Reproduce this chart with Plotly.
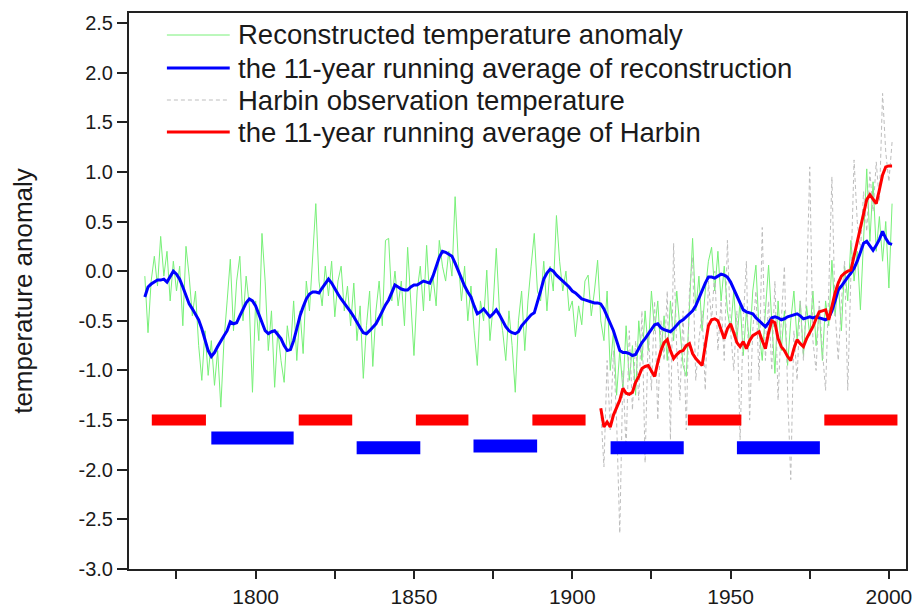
import plotly.graph_objects as go

# ---------------- data ----------------
recon_years = list(range(1765, 2002))
recon = [
    -0.05, -0.62, -0.10, 0.15, -0.15,                              # 1765-1769
    0.35, -0.05, 0.20, -0.30, 0.10, -0.20, 0.05, -0.55, 0.25, -0.05,  # 1770s
    -0.45, -0.20, -0.75, -1.10, -0.60, -1.05, -0.70, -1.15, -0.80, -1.37,  # 1780s
    -0.70, -0.30, 0.12, -0.60, -0.10, 0.15, -0.50, -0.05, -0.35, -1.22,  # 1790s
    -0.30, -0.70, 0.38, -0.10, -0.80, -0.40, -1.17, -0.60, -0.90, -1.12,  # 1800s
    -0.55, -0.80, -0.30, -0.90, -0.40, -0.83, -0.10, -0.40, 0.20, 0.68,  # 1810s
    -0.10, -0.35, 0.05, -0.25, 0.10, -0.46, -0.10, 0.05, -0.40, -0.15,  # 1820s
    -0.55, -0.12, -0.70, -0.35, -1.08, -0.55, -0.20, -0.96, -0.40, -0.10,  # 1830s
    -0.55, 0.31, 0.33, -0.30, 0.00, -0.35, -0.10, -0.55, 0.24, -0.30,  # 1840s
    -0.85, -0.20, 0.05, -0.40, 0.26, -0.30, -0.05, -0.35, 0.31, 0.05,  # 1850s
    -0.10, 0.20, -0.05, 0.75, 0.10, -0.30, 0.05, -0.50, -0.15, -0.60,  # 1860s
    -0.95, -0.30, -0.50, 0.01, -0.70, -0.35, 0.23, -0.40, -0.60, -0.90,  # 1870s
    -0.40, -0.75, -1.22, -0.50, -0.20, -0.80, -0.30, 0.05, 0.38, -0.20,  # 1880s
    -0.30, 0.10, -0.40, 0.05, -0.20, 0.56, 0.10, -0.20, 0.00, -0.40,  # 1890s
    -0.30, -0.66, -0.35, -0.54, -0.10, -0.04, -0.45, -0.20, 0.11, -0.50,  # 1900s
    -0.70, -0.20, -1.00, -0.60, -1.25, -0.80, -1.20, -0.55, -1.10, -0.75,  # 1910s
    -1.25, -0.50, -0.90, -0.40, -0.80, -0.20, -0.60, -0.30, -0.85, -0.45,  # 1920s
    -0.90, -0.30, -0.70, -0.20, -0.60, -0.95, -1.06, -0.30, 0.33, -0.40,  # 1930s
    -0.05, -0.60, -0.20, 0.10, 0.24, -0.20, 0.20, -0.30, 0.05, -0.40,  # 1940s
    -0.60, -0.20, -0.70, -0.30, -0.85, -0.40, -0.75, -0.20, 0.06, -0.60,  # 1950s
    -0.90, -0.40, 0.06, -0.50, -1.03, -0.30, -0.80, -0.40, -0.95, -0.50,  # 1960s
    -0.20, -0.70, -0.30, -0.85, -0.35, -0.65, -0.20, -0.75, -0.40, -0.90,  # 1970s
    -0.30, -0.55, 0.11, -0.45, -0.10, -0.60, 0.05, -0.30, 0.31, -0.10,  # 1980s
    0.20, -0.39, 0.40, 1.03, 0.30, 0.90, 0.20, 0.55, 0.10, 0.50,  # 1990s
    -0.17, 0.68,                                                   # 2000-2001
]
recon_avg = [
    -0.26, -0.16, -0.13, -0.11, -0.09,
    -0.09, -0.08, -0.11, -0.06, 0.00, -0.03, -0.08, -0.16, -0.25, -0.33,
    -0.38, -0.44, -0.49, -0.58, -0.70, -0.80, -0.86, -0.82, -0.76, -0.70,
    -0.65, -0.60, -0.51, -0.53, -0.52, -0.45, -0.38, -0.32, -0.28, -0.30,
    -0.35, -0.44, -0.53, -0.60, -0.63, -0.61, -0.60, -0.64, -0.68, -0.75,
    -0.80, -0.79, -0.70, -0.58, -0.45, -0.36, -0.28, -0.23, -0.21, -0.21,
    -0.22, -0.17, -0.12, -0.08, -0.12, -0.18, -0.23, -0.28, -0.32, -0.36,
    -0.41, -0.46, -0.52, -0.57, -0.62, -0.63, -0.60, -0.56, -0.53, -0.47,
    -0.40, -0.34, -0.29, -0.21, -0.14, -0.16, -0.18, -0.19, -0.19, -0.16,
    -0.14, -0.14, -0.12, -0.10, -0.11, -0.12, -0.05, 0.05, 0.14, 0.20,
    0.19, 0.17, 0.15, 0.08, 0.00, -0.07, -0.15, -0.21, -0.26, -0.35,
    -0.43, -0.41, -0.38, -0.42, -0.46, -0.43, -0.39, -0.44, -0.50, -0.56,
    -0.60, -0.62, -0.63, -0.61, -0.55, -0.51, -0.48, -0.44, -0.42, -0.32,
    -0.20, -0.08, -0.02, 0.02, 0.00, -0.04, -0.07, -0.09, -0.12, -0.16,
    -0.20, -0.22, -0.25, -0.28, -0.29, -0.30, -0.31, -0.32, -0.32, -0.33,
    -0.38, -0.45, -0.53, -0.60, -0.70, -0.80, -0.82, -0.82, -0.83, -0.85,
    -0.84, -0.78, -0.72, -0.68, -0.63, -0.58, -0.54, -0.53, -0.57, -0.59,
    -0.60, -0.61, -0.58, -0.54, -0.51, -0.49, -0.46, -0.44, -0.40, -0.35,
    -0.27, -0.20, -0.12, -0.06, -0.06, -0.07, -0.05, -0.03, -0.04, -0.06,
    -0.11, -0.18, -0.26, -0.33, -0.39, -0.41, -0.42, -0.43, -0.47, -0.50,
    -0.53, -0.56, -0.52, -0.47, -0.46, -0.47, -0.49, -0.48, -0.46, -0.45,
    -0.44, -0.43, -0.45, -0.48, -0.47, -0.46, -0.47, -0.46, -0.47, -0.48,
    -0.49, -0.47, -0.40, -0.30, -0.19, -0.15, -0.10, -0.06, -0.02, 0.03,
    0.10, 0.20, 0.28, 0.30, 0.25, 0.21, 0.26, 0.32, 0.40, 0.33,
    0.28, 0.27,
]

harbin_years = list(range(1909, 2002))
harbin = [
    -1.40,
    -1.97, -0.90, -1.60, -0.80, -1.50, -2.64, -1.00, -1.80, -0.60, -1.40,  # 1910s
    -0.70, -1.30, -0.40, -1.93, -0.60, -1.20, -0.30, -1.50, -0.50, -0.90,  # 1920s
    -0.20, -1.70, 0.28, -0.80, -1.30, -0.40, -1.60, -0.20, 0.14, -1.10,  # 1930s
    -0.70, -0.40, -1.20, -0.10, -0.50, 0.00, -0.80, -0.30, -0.90, 0.31,  # 1940s
    -0.60, -1.00, -0.40, -1.70, -0.50, 0.10, -1.50, -0.60, -0.20, -1.10,  # 1950s
    0.44, -0.90, -0.30, -1.00, -0.10, -1.30, -0.50, 0.05, -1.20, -2.10,  # 1960s
    -0.60, -1.10, -0.30, -0.90, -0.20, 1.05, -0.70, -1.00, -0.30, -0.80,  # 1970s
    -1.20, -0.20, 0.95, -0.40, -0.90, -0.30, 0.10, -1.20, 0.00, 1.12,  # 1980s
    0.50, 0.20, 0.80, 0.40, 1.00, 0.60, 1.10, 0.70, 1.79, 1.20,  # 1990s
    0.90, 1.30,
]
harbin_avg = [
    -1.38,
    -1.57, -1.52, -1.57, -1.45, -1.38, -1.30, -1.18, -1.23, -1.24, -1.22,
    -1.12, -1.06, -0.98, -0.96, -0.95, -1.00, -1.06, -0.92, -0.80, -0.72,
    -0.69, -0.80, -0.88, -0.84, -0.81, -0.80, -0.75, -0.73, -0.83, -0.88,
    -0.92, -0.95, -0.75, -0.55, -0.49, -0.48, -0.50, -0.60, -0.68, -0.58,
    -0.53, -0.62, -0.72, -0.76, -0.71, -0.78, -0.70, -0.65, -0.63, -0.61,
    -0.70, -0.78, -0.62, -0.50, -0.52, -0.68, -0.76, -0.80, -0.86, -0.90,
    -0.78, -0.69, -0.73, -0.76, -0.68, -0.62, -0.56, -0.48, -0.41, -0.40,
    -0.39, -0.49, -0.35, -0.22, -0.12, -0.05, -0.02, 0.00, 0.01, 0.15,
    0.30, 0.45, 0.60, 0.72, 0.77, 0.72, 0.68, 0.82, 0.97, 1.05,
    1.06, 1.06,
]

# warm (red) and cold (blue) periods
warm_start = [1767.2, 1813.6, 1850.6, 1887.4, 1936.5, 1979.6]
warm_end = [1784.3, 1830.5, 1867.2, 1904.2, 1953.4, 2002.7]
warm_level = [-1.50, -1.50, -1.50, -1.50, -1.50, -1.50]
cold_start = [1786.0, 1831.9, 1868.8, 1912.1, 1952.0]
cold_end = [1812.0, 1852.0, 1888.9, 1935.2, 1978.2]
cold_level = [-1.68, -1.78, -1.76, -1.78, -1.78]

x_tickvals = [1775, 1800, 1825, 1850, 1875, 1900, 1925, 1950, 1975, 2000]
x_ticktext = ["", "1800", "", "1850", "", "1900", "", "1950", "", "2000"]
y_tickvals = [2.5, 2.0, 1.5, 1.0, 0.5, 0.0, -0.5, -1.0, -1.5, -2.0, -2.5, -3.0]
y_ticktext = ["2.5", "2.0", "1.5", "1.0", "0.5", "0.0", "-0.5", "-1.0",
              "-1.5", "-2.0", "-2.5", "-3.0"]

legend_labels = [
    "Reconstructed temperature anomaly",
    "the 11-year running average of reconstruction",
    "Harbin observation temperature",
    "the 11-year running average of Harbin",
]

# ---------------- styling ----------------
W, H = 916, 607
ML, MR, MT, MB = 129, 8, 13, 38
FONT = "Liberation Sans, Arial, sans-serif"
GREEN = "#78f078"
BLUE = "#0000ff"
GREY = "#bdbdbd"
RED = "#ff0000"


def segments(starts, ends, levels):
    xs, ys = [], []
    for s, e, v in zip(starts, ends, levels):
        xs += [s, e, None]
        ys += [v, v, None]
    return xs, ys


fig = go.Figure()
fig.add_trace(go.Scatter(x=recon_years, y=recon, mode="lines",
                         line=dict(color=GREEN, width=1), name=legend_labels[0],
                         showlegend=False))
fig.add_trace(go.Scatter(x=harbin_years, y=harbin, mode="lines",
                         line=dict(color=GREY, width=1, dash="4px,3px"),
                         name=legend_labels[2], showlegend=False))

wx, wy = segments(warm_start, warm_end, warm_level)
cx, cy = segments(cold_start, cold_end, cold_level)
fig.add_trace(go.Scatter(x=wx, y=wy, mode="lines", line=dict(color=RED, width=11),
                         showlegend=False, connectgaps=False))
fig.add_trace(go.Scatter(x=cx, y=cy, mode="lines", line=dict(color=BLUE, width=13),
                         showlegend=False, connectgaps=False))

fig.add_trace(go.Scatter(x=recon_years, y=recon_avg, mode="lines",
                         line=dict(color=BLUE, width=3), name=legend_labels[1],
                         showlegend=False))
fig.add_trace(go.Scatter(x=harbin_years, y=harbin_avg, mode="lines",
                         line=dict(color=RED, width=3), name=legend_labels[3],
                         showlegend=False))

# legend drawn in paper space
plot_w = W - ML - MR
plot_h = H - MT - MB


def px_to_paper(px, py):
    return (px - ML) / plot_w, (H - MB - py) / plot_h


legend_rows = [35, 68, 100, 132]
legend_styles = [
    dict(color=GREEN, width=1),
    dict(color=BLUE, width=3),
    dict(color=GREY, width=1, dash="4px,3px"),
    dict(color=RED, width=3),
]
shapes = []
annotations = []
for label, row, style in zip(legend_labels, legend_rows, legend_styles):
    x0, y0 = px_to_paper(167, row)
    x1, _ = px_to_paper(230, row)
    xt, _ = px_to_paper(236, row)
    shapes.append(dict(type="line", xref="paper", yref="paper",
                       x0=x0, x1=x1, y0=y0, y1=y0, line=style))
    annotations.append(dict(xref="paper", yref="paper", x=xt, y=y0,
                            xanchor="left", yanchor="middle", text=label,
                            showarrow=False,
                            font=dict(family=FONT, size=27.5, color="#1a1a1a")))

fig.update_layout(
    width=W, height=H,
    margin=dict(l=ML, r=MR, t=MT, b=MB),
    paper_bgcolor="white", plot_bgcolor="white",
    font=dict(family=FONT, color="#1a1a1a"),
    shapes=shapes, annotations=annotations,
    showlegend=False,
)
fig.update_xaxes(
    range=[1760, 2005.4], tickvals=x_tickvals, ticktext=x_ticktext,
    ticks="outside", ticklen=8, tickwidth=1.5, tickcolor="#222",
    showline=True, linecolor="#222", linewidth=2, mirror=True,
    showgrid=False, zeroline=False, tickfont=dict(size=21),
    automargin=False,
)
fig.update_yaxes(
    range=[-3.0, 2.6], tickvals=y_tickvals, ticktext=y_ticktext,
    ticks="outside", ticklen=10, tickwidth=1.5, tickcolor="#222",
    showline=True, linecolor="#222", linewidth=2, mirror=True,
    showgrid=False, zeroline=False, tickfont=dict(size=20),
    title=dict(text="temperature anomaly", font=dict(size=26), standoff=38),
)

fig.write_html("out.html")
